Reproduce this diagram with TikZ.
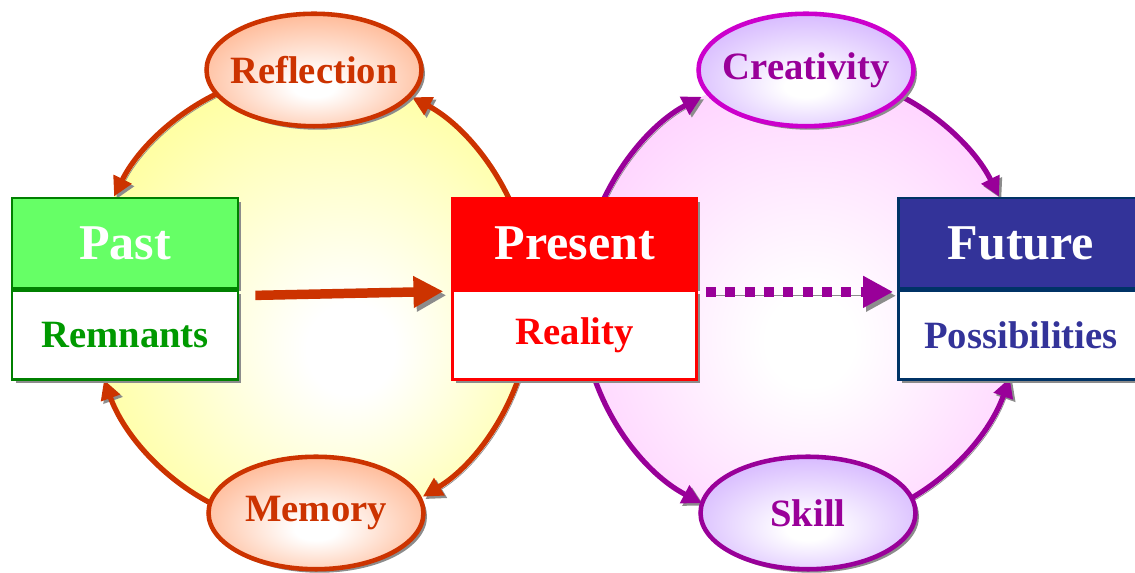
\documentclass[tikz,border=0pt]{standalone}
\usepackage{fontspec}
\setmainfont{Liberation Serif}
\usepackage{tikz}
\usetikzlibrary{positioning,shapes.geometric,arrows.meta,shadows,backgrounds}

\definecolor{pastgreen}{HTML}{66FF66}
\definecolor{pastline}{HTML}{008000}
\definecolor{pasttext}{HTML}{009900}
\definecolor{futureblue}{HTML}{333399}
\definecolor{futureline}{HTML}{003366}
\definecolor{ringred}{HTML}{CC3300}
\definecolor{ringpurple}{HTML}{990099}
\definecolor{bubblemagenta}{HTML}{CC00CC}
\definecolor{bubbleorange}{HTML}{FF9966}
\definecolor{bubblelilac}{HTML}{C499FF}
\definecolor{pastyellow}{HTML}{FFFF8C}
\definecolor{futurepink}{HTML}{FFC8FF}

\pgfdeclareradialshading{pastglow}{\pgfpoint{5bp}{-6bp}}{color(0bp)=(white); color(5bp)=(white); color(34bp)=(pastyellow); color(50bp)=(pastyellow)}
\pgfdeclareradialshading{futureglow}{\pgfpoint{1bp}{-5bp}}{color(0bp)=(white); color(5bp)=(white); color(34bp)=(futurepink); color(50bp)=(futurepink)}
\pgfdeclareradialshading{orangeglow}{\pgfpoint{0bp}{-8bp}}{color(0bp)=(white); color(5bp)=(white); color(40bp)=(bubbleorange); color(50bp)=(bubbleorange)}
\pgfdeclareradialshading{lilacglow}{\pgfpoint{0bp}{-8bp}}{color(0bp)=(white); color(5bp)=(white); color(40bp)=(bubblelilac); color(50bp)=(bubblelilac)}

\begin{document}
\begin{tikzpicture}[x=0.02cm, y=0.02cm,
        head/.style={draw, line width=1.6pt, minimum height=1.8cm, inner sep=0pt, text=white, font=\fontsize{28.5}{30}\selectfont\bfseries},
        sub/.style={draw, fill=white, line width=1.6pt, minimum height=1.78cm, inner sep=0pt, font=\fontsize{22}{24}\selectfont\bfseries},
        bubble/.style={ellipse, draw, line width=2.6pt, minimum width=4.3cm, minimum height=2.25cm, inner ysep=0pt, inner xsep=-1cm, font=\fontsize{22}{24}\selectfont\bfseries},
        dropped/.style={drop shadow={shadow xshift=2pt, shadow yshift=-2pt, fill=black!45, opacity=1}},
        arcshadow/.style={preaction={draw=black!45, transform canvas={shift={(1.4pt,-1.4pt)}}}},
        ringarc/.style={line width=3pt, arcshadow, -{Triangle[length=11pt, width=11pt]}},
        bigarrow/.style={draw=ringred, line width=5.4pt, preaction={draw=black!45, transform canvas={shift={(1.7pt,-2.2pt)}}}, -{Triangle[length=17pt, width=17pt]}},
        dotarrow/.style={draw=ringpurple, line width=5.7pt, dash pattern=on 5.7pt off 5.3pt, preaction={draw=black!45, transform canvas={shift={(1.7pt,-2.2pt)}}}, -{Triangle[length=17pt, width=17pt]}}
    ]
        \useasboundingbox (0,0) rectangle (1135,573);

        \node [head, dropped, fill=pastgreen, draw=pastline, minimum width=4.52cm] at (125,330) (past) {Past};
        \node [sub, dropped, draw=pastline, text=pasttext, minimum width=4.52cm, below=0pt of past] (remnants) {Remnants};
        \node [head, dropped, fill=red, draw=red, minimum width=4.88cm, right=4.24cm of past] (present) {Present};
        \node [sub, dropped, draw=red, text=red, minimum width=4.88cm, below=0pt of present] (reality) {Reality};
        \node [head, dropped, fill=futureblue, draw=futureline, minimum width=5.1cm, right=3.98cm of present] (future) {\hspace*{-0.2cm}Future};
        \node [sub, dropped, draw=futureline, text=futureblue, minimum width=5.1cm, below=0pt of future] (possibilities) {\hspace*{-0.2cm}Possibilities};

        \node [bubble, dropped, shading=orangeglow, draw=ringred, text=ringred] at (314,503) (reflection) {Reflection};
        \node [bubble, dropped, shading=orangeglow, draw=ringred, text=ringred] at (316,60) (memory) {Memory};
        \node [bubble, dropped, shading=lilacglow, draw=bubblemagenta, text=ringpurple] at (806,503) (creativity) {Creativity};
        \node [bubble, dropped, shading=lilacglow, draw=ringpurple, text=ringpurple] at (808,60) (skill) {Skill};

        \coordinate (pastring) at (311,273);
        \coordinate (futurering) at (802,273);

        \begin{scope}[on background layer]
            \shade [shading=pastglow] (pastring) ellipse [x radius=221, y radius=228];
            \shade [shading=futureglow] (futurering) ellipse [x radius=221, y radius=228];

            \draw [ringarc, draw=ringred] ([shift={(113:221 and 228)}]pastring) arc [start angle=113, end angle=153, x radius=221, y radius=228];
            \draw [ringarc, draw=ringred] ([shift={(20:221 and 228)}]pastring) arc [start angle=20, end angle=62.8, x radius=221, y radius=228];
            \draw [ringarc, draw=ringred] ([shift={(-15:221 and 228)}]pastring) arc [start angle=-15, end angle=-59.6, x radius=221, y radius=228];
            \draw [ringarc, draw=ringred] ([shift={(-115:221 and 228)}]pastring) arc [start angle=-115, end angle=-159.5, x radius=221, y radius=228];

            \draw [ringarc, draw=ringpurple] ([shift={(160:221 and 228)}]futurering) arc [start angle=160, end angle=117, x radius=221, y radius=228];
            \draw [ringarc, draw=ringpurple] ([shift={(65:221 and 228)}]futurering) arc [start angle=65, end angle=27, x radius=221, y radius=228];
            \draw [ringarc, draw=ringpurple] ([shift={(-165:221 and 228)}]futurering) arc [start angle=-165, end angle=-117, x radius=221, y radius=228];
            \draw [ringarc, draw=ringpurple] ([shift={(-65:221 and 228)}]futurering) arc [start angle=-65, end angle=-20, x radius=221, y radius=228];
        \end{scope}

        \draw [bigarrow] ([xshift=0.32cm, yshift=-0.12cm]past.south east) -- ([xshift=-0.16cm, yshift=-0.04cm]present.south west);
        \draw [dotarrow] ([xshift=0.16cm, yshift=-0.05cm]present.south east) -- ([xshift=-0.08cm, yshift=-0.05cm]future.south west);

    \end{tikzpicture}
\end{document}
